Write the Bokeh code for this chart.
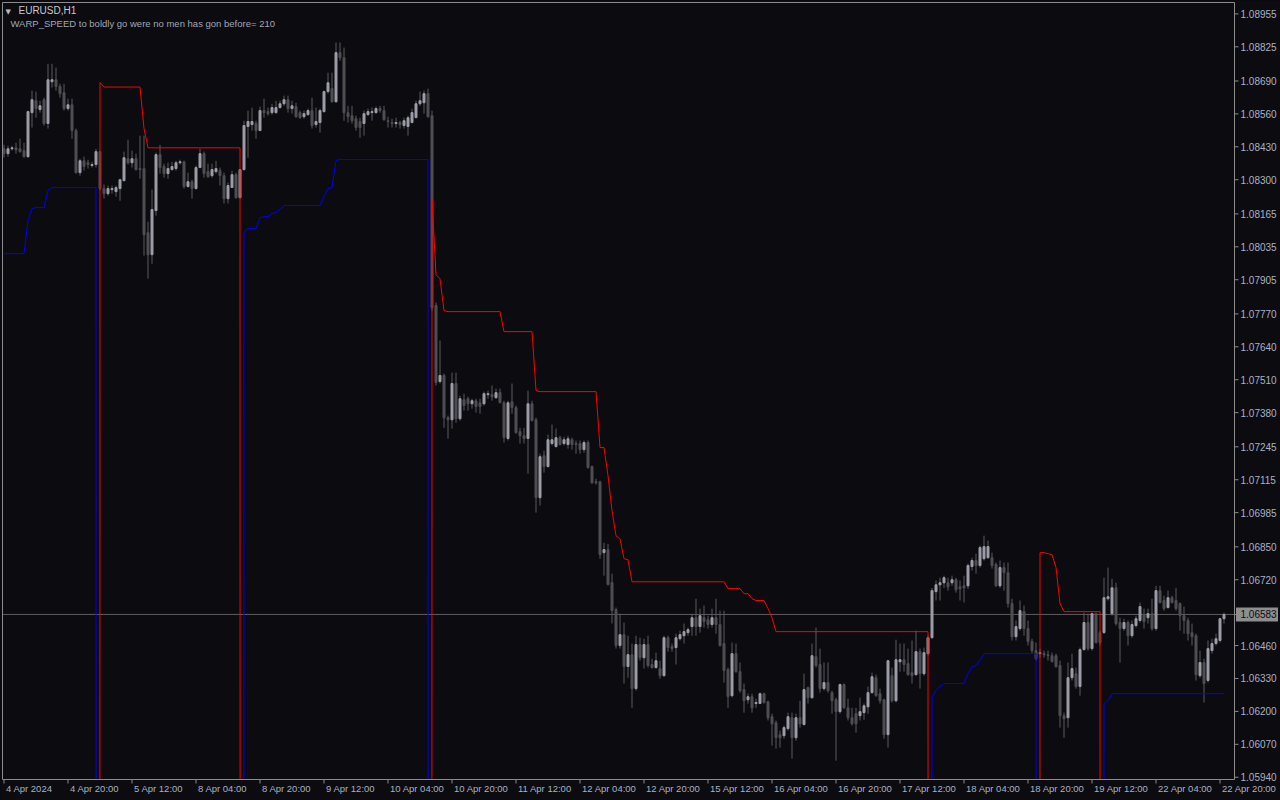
from bokeh.plotting import figure
from bokeh.models import ColumnDataSource, Range1d, Label, GlobalInlineStyleSheet
from bokeh.core.properties import value
from bokeh.embed import file_html
from bokeh.resources import INLINE

# ---------------- data (EURUSD H1, bar index 0 = 4 Apr 2024 04:00) ----------------
opens = [
    1.08422, 1.08403, 1.08422, 1.08426, 1.08422, 1.08415, 1.08391, 1.08565, 1.08612, 1.08577,
    1.08616, 1.08522, 1.08687, 1.08695, 1.08668, 1.08644, 1.08581, 1.08596, 1.08494, 1.08328,
    1.08375, 1.08367, 1.08356, 1.08360, 1.08411, 1.08265, 1.08245, 1.08261, 1.08253, 1.08265,
    1.08296, 1.08383, 1.08367, 1.08383, 1.08344, 1.08344, 1.08091, 1.08004, 1.08178, 1.08399,
    1.08352, 1.08324, 1.08340, 1.08344, 1.08367, 1.08371, 1.08273, 1.08292, 1.08265, 1.08348,
    1.08403, 1.08332, 1.08316, 1.08332, 1.08336, 1.08316, 1.08225, 1.08269, 1.08320, 1.08229,
    1.08340, 1.08510, 1.08518, 1.08522, 1.08494, 1.08573, 1.08569, 1.08565, 1.08565, 1.08585,
    1.08600, 1.08616, 1.08581, 1.08589, 1.08565, 1.08549, 1.08557, 1.08573, 1.08518, 1.08526,
    1.08569, 1.08648, 1.08660, 1.08608, 1.08802, 1.08782, 1.08565, 1.08553, 1.08541, 1.08530,
    1.08522, 1.08557, 1.08565, 1.08565, 1.08581, 1.08573, 1.08533, 1.08526, 1.08522, 1.08526,
    1.08514, 1.08510, 1.08526, 1.08545, 1.08600, 1.08604, 1.08640, 1.08553, 1.07803, 1.07503,
    1.07527, 1.07360, 1.07352, 1.07495, 1.07356, 1.07431, 1.07435, 1.07415, 1.07427, 1.07419,
    1.07415, 1.07451, 1.07451, 1.07439, 1.07459, 1.07419, 1.07278, 1.07423, 1.07400, 1.07305,
    1.07289, 1.07278, 1.07415, 1.07352, 1.07044, 1.07210, 1.07167, 1.07258, 1.07246, 1.07281,
    1.07258, 1.07254, 1.07273, 1.07258, 1.07258, 1.07234, 1.07262, 1.07167, 1.07107, 1.07107,
    1.06827, 1.06839, 1.06709, 1.06602, 1.06460, 1.06503, 1.06377, 1.06424, 1.06290, 1.06464,
    1.06412, 1.06464, 1.06385, 1.06373, 1.06369, 1.06341, 1.06491, 1.06456, 1.06452, 1.06487,
    1.06499, 1.06511, 1.06535, 1.06570, 1.06535, 1.06570, 1.06562, 1.06543, 1.06570, 1.06543,
    1.06468, 1.06365, 1.06262, 1.06428, 1.06357, 1.06286, 1.06246, 1.06258, 1.06231, 1.06231,
    1.06270, 1.06238, 1.06179, 1.06155, 1.06108, 1.06104, 1.06132, 1.06175, 1.06096, 1.06175,
    1.06148, 1.06294, 1.06254, 1.06416, 1.06385, 1.06290, 1.06314, 1.06274, 1.06246, 1.06199,
    1.06306, 1.06214, 1.06175, 1.06191, 1.06183, 1.06195, 1.06218, 1.06274, 1.06333, 1.06270,
    1.06246, 1.06108, 1.06341, 1.06242, 1.06396, 1.06404, 1.06389, 1.06353, 1.06345, 1.06436,
    1.06349, 1.06428, 1.06491, 1.06673, 1.06700, 1.06708, 1.06708, 1.06708, 1.06720, 1.06692,
    1.06696, 1.06696, 1.06772, 1.06796, 1.06776, 1.06803, 1.06807, 1.06807, 1.06780, 1.06696,
    1.06768, 1.06748, 1.06626, 1.06495, 1.06527, 1.06594, 1.06527, 1.06476, 1.06440, 1.06428,
    1.06428, 1.06424, 1.06420, 1.06420, 1.06381, 1.06183, 1.06175, 1.06333, 1.06349, 1.06298,
    1.06444, 1.06551, 1.06448, 1.06586, 1.06511, 1.06511, 1.06645, 1.06586, 1.06688, 1.06551,
    1.06527, 1.06551, 1.06499, 1.06539, 1.06559, 1.06582, 1.06570, 1.06586, 1.06527, 1.06677,
    1.06638, 1.06610, 1.06649, 1.06638, 1.06626, 1.06578, 1.06559, 1.06511, 1.06499, 1.06341,
    1.06393, 1.06322, 1.06440, 1.06468, 1.06480, 1.06566,
]
highs = [
    1.08438, 1.08434, 1.08434, 1.08446, 1.08462, 1.08446, 1.08573, 1.08652, 1.08648, 1.08612,
    1.08624, 1.08758, 1.08758, 1.08743, 1.08679, 1.08679, 1.08620, 1.08620, 1.08502, 1.08383,
    1.08391, 1.08379, 1.08371, 1.08422, 1.08415, 1.08281, 1.08277, 1.08277, 1.08277, 1.08304,
    1.08411, 1.08458, 1.08415, 1.08403, 1.08474, 1.08474, 1.08134, 1.08261, 1.08407, 1.08438,
    1.08363, 1.08367, 1.08371, 1.08375, 1.08379, 1.08375, 1.08328, 1.08300, 1.08356, 1.08422,
    1.08411, 1.08363, 1.08363, 1.08375, 1.08348, 1.08328, 1.08289, 1.08336, 1.08328, 1.08340,
    1.08533, 1.08573, 1.08585, 1.08533, 1.08589, 1.08620, 1.08585, 1.08600, 1.08612, 1.08612,
    1.08632, 1.08632, 1.08612, 1.08604, 1.08573, 1.08573, 1.08581, 1.08624, 1.08585, 1.08581,
    1.08652, 1.08723, 1.08723, 1.08842, 1.08842, 1.08822, 1.08592, 1.08592, 1.08553, 1.08545,
    1.08573, 1.08581, 1.08585, 1.08589, 1.08592, 1.08592, 1.08549, 1.08541, 1.08545, 1.08533,
    1.08545, 1.08553, 1.08581, 1.08612, 1.08648, 1.08652, 1.08660, 1.08573, 1.07815, 1.07665,
    1.07534, 1.07368, 1.07538, 1.07538, 1.07447, 1.07455, 1.07443, 1.07435, 1.07435, 1.07435,
    1.07463, 1.07467, 1.07487, 1.07475, 1.07475, 1.07427, 1.07427, 1.07495, 1.07408, 1.07320,
    1.07320, 1.07467, 1.07427, 1.07360, 1.07218, 1.07230, 1.07293, 1.07333, 1.07317, 1.07289,
    1.07285, 1.07289, 1.07281, 1.07270, 1.07270, 1.07270, 1.07270, 1.07171, 1.07119, 1.07111,
    1.06866, 1.06862, 1.06744, 1.06610, 1.06586, 1.06551, 1.06499, 1.06468, 1.06499, 1.06491,
    1.06487, 1.06499, 1.06408, 1.06432, 1.06400, 1.06499, 1.06499, 1.06468, 1.06507, 1.06519,
    1.06547, 1.06531, 1.06586, 1.06645, 1.06606, 1.06618, 1.06578, 1.06606, 1.06645, 1.06598,
    1.06598, 1.06373, 1.06472, 1.06468, 1.06393, 1.06310, 1.06270, 1.06270, 1.06250, 1.06274,
    1.06274, 1.06242, 1.06191, 1.06164, 1.06124, 1.06144, 1.06195, 1.06195, 1.06191, 1.06242,
    1.06349, 1.06298, 1.06468, 1.06531, 1.06448, 1.06393, 1.06393, 1.06282, 1.06254, 1.06310,
    1.06310, 1.06250, 1.06214, 1.06214, 1.06254, 1.06231, 1.06298, 1.06353, 1.06345, 1.06290,
    1.06250, 1.06404, 1.06373, 1.06483, 1.06468, 1.06468, 1.06448, 1.06480, 1.06519, 1.06448,
    1.06452, 1.06499, 1.06688, 1.06717, 1.06728, 1.06736, 1.06728, 1.06736, 1.06728, 1.06717,
    1.06736, 1.06784, 1.06807, 1.06823, 1.06855, 1.06894, 1.06875, 1.06827, 1.06788, 1.06796,
    1.06788, 1.06788, 1.06645, 1.06559, 1.06638, 1.06618, 1.06559, 1.06487, 1.06472, 1.06448,
    1.06440, 1.06440, 1.06432, 1.06428, 1.06401, 1.06195, 1.06393, 1.06428, 1.06373, 1.06452,
    1.06590, 1.06586, 1.06590, 1.06590, 1.06519, 1.06728, 1.06768, 1.06724, 1.06708, 1.06570,
    1.06566, 1.06559, 1.06559, 1.06578, 1.06630, 1.06606, 1.06606, 1.06645, 1.06696, 1.06696,
    1.06657, 1.06677, 1.06657, 1.06688, 1.06630, 1.06614, 1.06570, 1.06547, 1.06507, 1.06440,
    1.06408, 1.06480, 1.06487, 1.06507, 1.06570, 1.06590,
]
lows = [
    1.08387, 1.08391, 1.08415, 1.08403, 1.08407, 1.08387, 1.08387, 1.08506, 1.08545, 1.08565,
    1.08514, 1.08502, 1.08664, 1.08652, 1.08624, 1.08573, 1.08573, 1.08462, 1.08324, 1.08316,
    1.08336, 1.08344, 1.08348, 1.08348, 1.08257, 1.08225, 1.08237, 1.08245, 1.08233, 1.08217,
    1.08296, 1.08360, 1.08348, 1.08336, 1.08304, 1.08000, 1.07909, 1.07968, 1.08158, 1.08324,
    1.08308, 1.08304, 1.08336, 1.08336, 1.08360, 1.08265, 1.08269, 1.08225, 1.08261, 1.08348,
    1.08308, 1.08308, 1.08308, 1.08324, 1.08277, 1.08206, 1.08206, 1.08269, 1.08225, 1.08225,
    1.08336, 1.08387, 1.08494, 1.08462, 1.08494, 1.08545, 1.08553, 1.08557, 1.08561, 1.08581,
    1.08592, 1.08565, 1.08561, 1.08545, 1.08541, 1.08541, 1.08553, 1.08502, 1.08506, 1.08486,
    1.08565, 1.08640, 1.08604, 1.08604, 1.08770, 1.08533, 1.08526, 1.08522, 1.08494, 1.08466,
    1.08474, 1.08553, 1.08533, 1.08561, 1.08565, 1.08533, 1.08506, 1.08506, 1.08506, 1.08502,
    1.08502, 1.08474, 1.08522, 1.08545, 1.08592, 1.08561, 1.08545, 1.07783, 1.07487, 1.07495,
    1.07320, 1.07277, 1.07317, 1.07340, 1.07348, 1.07388, 1.07388, 1.07396, 1.07380, 1.07376,
    1.07408, 1.07435, 1.07427, 1.07435, 1.07419, 1.07262, 1.07270, 1.07376, 1.07297, 1.07258,
    1.07258, 1.07139, 1.07348, 1.06985, 1.07013, 1.07143, 1.07163, 1.07250, 1.07242, 1.07250,
    1.07250, 1.07238, 1.07234, 1.07218, 1.07218, 1.07222, 1.07159, 1.07099, 1.07096, 1.06803,
    1.06736, 1.06697, 1.06547, 1.06448, 1.06448, 1.06310, 1.06333, 1.06214, 1.06282, 1.06401,
    1.06369, 1.06373, 1.06369, 1.06369, 1.06329, 1.06337, 1.06436, 1.06436, 1.06385, 1.06480,
    1.06468, 1.06499, 1.06499, 1.06499, 1.06511, 1.06531, 1.06527, 1.06531, 1.06507, 1.06456,
    1.06314, 1.06214, 1.06255, 1.06353, 1.06274, 1.06195, 1.06231, 1.06195, 1.06214, 1.06231,
    1.06231, 1.06164, 1.06065, 1.06053, 1.06057, 1.06092, 1.06124, 1.06013, 1.06084, 1.06136,
    1.06144, 1.06231, 1.06250, 1.06373, 1.06274, 1.06282, 1.06274, 1.06191, 1.06005, 1.06191,
    1.06211, 1.06164, 1.06144, 1.06116, 1.06164, 1.06167, 1.06191, 1.06270, 1.06258, 1.06231,
    1.06092, 1.06057, 1.06235, 1.06235, 1.06357, 1.06357, 1.06341, 1.06310, 1.06341, 1.06290,
    1.06341, 1.06420, 1.06487, 1.06638, 1.06638, 1.06688, 1.06677, 1.06696, 1.06669, 1.06638,
    1.06630, 1.06684, 1.06756, 1.06744, 1.06768, 1.06796, 1.06803, 1.06764, 1.06692, 1.06688,
    1.06677, 1.06610, 1.06480, 1.06480, 1.06519, 1.06499, 1.06460, 1.06428, 1.06401, 1.06412,
    1.06412, 1.06401, 1.06393, 1.06373, 1.06136, 1.06096, 1.06136, 1.06322, 1.06290, 1.06262,
    1.06440, 1.06440, 1.06440, 1.06468, 1.06460, 1.06507, 1.06638, 1.06578, 1.06539, 1.06393,
    1.06519, 1.06460, 1.06491, 1.06531, 1.06551, 1.06527, 1.06547, 1.06519, 1.06519, 1.06626,
    1.06598, 1.06606, 1.06626, 1.06598, 1.06519, 1.06507, 1.06480, 1.06460, 1.06322, 1.06333,
    1.06235, 1.06314, 1.06428, 1.06460, 1.06472, 1.06547,
]
closes = [
    1.08403, 1.08422, 1.08426, 1.08418, 1.08411, 1.08391, 1.08569, 1.08616, 1.08581, 1.08592,
    1.08522, 1.08695, 1.08695, 1.08668, 1.08640, 1.08581, 1.08596, 1.08494, 1.08328, 1.08375,
    1.08352, 1.08360, 1.08360, 1.08411, 1.08265, 1.08245, 1.08265, 1.08265, 1.08269, 1.08300,
    1.08387, 1.08367, 1.08383, 1.08340, 1.08340, 1.08083, 1.08004, 1.08182, 1.08399, 1.08348,
    1.08324, 1.08344, 1.08352, 1.08367, 1.08371, 1.08273, 1.08292, 1.08265, 1.08348, 1.08403,
    1.08324, 1.08312, 1.08340, 1.08344, 1.08316, 1.08225, 1.08277, 1.08320, 1.08229, 1.08340,
    1.08514, 1.08530, 1.08530, 1.08494, 1.08573, 1.08565, 1.08561, 1.08585, 1.08585, 1.08600,
    1.08616, 1.08581, 1.08592, 1.08549, 1.08545, 1.08561, 1.08573, 1.08514, 1.08530, 1.08573,
    1.08648, 1.08683, 1.08608, 1.08802, 1.08782, 1.08565, 1.08549, 1.08533, 1.08506, 1.08506,
    1.08561, 1.08569, 1.08569, 1.08581, 1.08573, 1.08537, 1.08530, 1.08522, 1.08526, 1.08518,
    1.08533, 1.08545, 1.08565, 1.08600, 1.08612, 1.08640, 1.08549, 1.07795, 1.07499, 1.07527,
    1.07360, 1.07352, 1.07495, 1.07356, 1.07435, 1.07408, 1.07415, 1.07427, 1.07404, 1.07404,
    1.07455, 1.07455, 1.07443, 1.07459, 1.07419, 1.07282, 1.07419, 1.07400, 1.07301, 1.07289,
    1.07278, 1.07415, 1.07348, 1.07044, 1.07206, 1.07167, 1.07273, 1.07273, 1.07281, 1.07254,
    1.07273, 1.07277, 1.07254, 1.07254, 1.07234, 1.07262, 1.07163, 1.07103, 1.07103, 1.06819,
    1.06839, 1.06701, 1.06598, 1.06460, 1.06503, 1.06377, 1.06424, 1.06290, 1.06464, 1.06412,
    1.06464, 1.06381, 1.06373, 1.06400, 1.06341, 1.06491, 1.06452, 1.06448, 1.06491, 1.06503,
    1.06515, 1.06523, 1.06570, 1.06535, 1.06578, 1.06555, 1.06543, 1.06570, 1.06543, 1.06460,
    1.06361, 1.06259, 1.06428, 1.06357, 1.06282, 1.06242, 1.06258, 1.06214, 1.06235, 1.06270,
    1.06235, 1.06175, 1.06151, 1.06096, 1.06096, 1.06136, 1.06179, 1.06096, 1.06175, 1.06151,
    1.06286, 1.06254, 1.06420, 1.06381, 1.06290, 1.06314, 1.06282, 1.06242, 1.06199, 1.06306,
    1.06214, 1.06175, 1.06151, 1.06151, 1.06199, 1.06222, 1.06274, 1.06337, 1.06262, 1.06242,
    1.06108, 1.06400, 1.06242, 1.06404, 1.06404, 1.06385, 1.06345, 1.06341, 1.06436, 1.06349,
    1.06432, 1.06491, 1.06677, 1.06700, 1.06708, 1.06728, 1.06692, 1.06720, 1.06680, 1.06684,
    1.06688, 1.06776, 1.06796, 1.06776, 1.06847, 1.06851, 1.06851, 1.06776, 1.06696, 1.06768,
    1.06748, 1.06626, 1.06495, 1.06535, 1.06598, 1.06527, 1.06476, 1.06440, 1.06408, 1.06432,
    1.06424, 1.06420, 1.06397, 1.06377, 1.06183, 1.06171, 1.06333, 1.06369, 1.06298, 1.06444,
    1.06551, 1.06448, 1.06586, 1.06472, 1.06472, 1.06649, 1.06653, 1.06688, 1.06547, 1.06527,
    1.06551, 1.06499, 1.06543, 1.06566, 1.06614, 1.06555, 1.06586, 1.06527, 1.06677, 1.06630,
    1.06606, 1.06649, 1.06630, 1.06606, 1.06578, 1.06559, 1.06507, 1.06495, 1.06345, 1.06393,
    1.06310, 1.06448, 1.06468, 1.06487, 1.06566, 1.06583,
]

# WARP_SPEED indicator buffers (segments: first bar index, values; 0.0 = empty value drop)
blue1_start = 0
blue1 = [1.08008, 1.08008, 1.08008, 1.08008, 1.08008, 1.08008, 1.08139, 1.08186, 1.08190, 1.08190,
         1.08190, 1.08257, 1.08269, 1.08269, 1.08269, 1.08269, 1.08269, 1.08269, 1.08269, 1.08269,
         1.08269, 1.08269, 1.08269, 1.08269, 0.0]
red1_start = 23
red1 = [0.0, 1.08684, 1.08666, 1.08666, 1.08666, 1.08666, 1.08666, 1.08666, 1.08666, 1.08666,
        1.08666, 1.08666, 1.08502, 1.08426, 1.08426, 1.08426, 1.08426, 1.08426, 1.08426, 1.08426,
        1.08426, 1.08426, 1.08426, 1.08426, 1.08426, 1.08426, 1.08426, 1.08426, 1.08426, 1.08426,
        1.08426, 1.08426, 1.08426, 1.08426, 1.08426, 1.08426, 1.08426, 0.0]
blue2_start = 59
blue2 = [0.0, 1.08095, 1.08107, 1.08107, 1.08107, 1.08150, 1.08154, 1.08154, 1.08166, 1.08170,
         1.08182, 1.08198, 1.08198, 1.08198, 1.08198, 1.08198, 1.08198, 1.08198, 1.08198, 1.08198,
         1.08198, 1.08233, 1.08265, 1.08269, 1.08376, 1.08380, 1.08380, 1.08380, 1.08380, 1.08380,
         1.08380, 1.08380, 1.08380, 1.08380, 1.08380, 1.08380, 1.08380, 1.08380, 1.08380, 1.08380,
         1.08380, 1.08380, 1.08380, 1.08380, 1.08380, 1.08380, 1.08380, 1.08380, 0.0]
red2_start = 106
red2 = [0.0, 1.08225, 1.07925, 1.07909, 1.07783, 1.07779, 1.07779, 1.07779, 1.07779, 1.07779,
        1.07779, 1.07779, 1.07779, 1.07779, 1.07779, 1.07779, 1.07779, 1.07779, 1.07779, 1.07700,
        1.07700, 1.07700, 1.07700, 1.07700, 1.07700, 1.07700, 1.07700, 1.07467, 1.07463, 1.07463,
        1.07463, 1.07463, 1.07463, 1.07463, 1.07463, 1.07463, 1.07463, 1.07463, 1.07463, 1.07463,
        1.07463, 1.07463, 1.07463, 1.07242, 1.07242, 1.07131, 1.06993, 1.06894, 1.06882, 1.06803,
        1.06799, 1.06712, 1.06712, 1.06712, 1.06712, 1.06712, 1.06712, 1.06712, 1.06712, 1.06712,
        1.06712, 1.06712, 1.06712, 1.06712, 1.06712, 1.06712, 1.06712, 1.06712, 1.06712, 1.06712,
        1.06712, 1.06712, 1.06712, 1.06712, 1.06712, 1.06685, 1.06685, 1.06685, 1.06685, 1.06665,
        1.06665, 1.06645, 1.06638, 1.06638, 1.06638, 1.06606, 1.06570, 1.06515, 1.06515, 1.06515,
        1.06515, 1.06515, 1.06515, 1.06515, 1.06515, 1.06515, 1.06515, 1.06515, 1.06515, 1.06515,
        1.06515, 1.06515, 1.06515, 1.06515, 1.06515, 1.06515, 1.06515, 1.06515, 1.06515, 1.06515,
        1.06515, 1.06515, 1.06515, 1.06515, 1.06515, 1.06515, 1.06515, 1.06515, 1.06515, 1.06515,
        1.06515, 1.06515, 1.06515, 1.06515, 1.06515, 1.06515, 0.0]
blue3_start = 231
blue3 = [0.0, 1.06254, 1.06282, 1.06298, 1.06310, 1.06310, 1.06310, 1.06310, 1.06310, 1.06310,
         1.06349, 1.06377, 1.06381, 1.06401, 1.06428, 1.06428, 1.06428, 1.06428, 1.06428, 1.06428,
         1.06428, 1.06428, 1.06428, 1.06428, 1.06428, 1.06428, 1.06428, 1.06428, 0.0]
red3_start = 258
red3 = [0.0, 1.06827, 1.06827, 1.06823, 1.06819, 1.06768, 1.06626, 1.06594, 1.06594, 1.06594,
        1.06594, 1.06594, 1.06594, 1.06594, 1.06594, 1.06594, 1.06594, 0.0]
blue4_start = 274
blue4 = [0.0, 1.06231, 1.06242, 1.06270, 1.06270, 1.06270, 1.06270, 1.06270, 1.06270, 1.06270,
         1.06270, 1.06270, 1.06270, 1.06270, 1.06270, 1.06270, 1.06270, 1.06270, 1.06270, 1.06270,
         1.06270, 1.06270, 1.06270, 1.06270, 1.06270, 1.06270, 1.06270, 1.06270, 1.06270, 1.06270,
         1.06270, 1.06270]

bid_price = 1.06583
price_ticks = [1.08955, 1.08825, 1.08690, 1.08560, 1.08430, 1.08300, 1.08165, 1.08035,
               1.07905, 1.07770, 1.07640, 1.07510, 1.07380, 1.07245, 1.07115, 1.06985,
               1.06850, 1.06720, 1.06460, 1.06330, 1.06200, 1.06070, 1.05940]
time_tick_bars = [0, 16, 32, 48, 64, 80, 96, 112, 128, 144, 160, 176, 192, 208, 224, 240,
                  256, 272, 288, 304]
time_tick_labels = ["4 Apr 2024", "4 Apr 20:00", "5 Apr 12:00", "8 Apr 04:00", "8 Apr 20:00",
                    "9 Apr 12:00", "10 Apr 04:00", "10 Apr 20:00", "11 Apr 12:00", "12 Apr 04:00",
                    "12 Apr 20:00", "15 Apr 12:00", "16 Apr 04:00", "16 Apr 20:00", "17 Apr 12:00",
                    "18 Apr 04:00", "18 Apr 20:00", "19 Apr 12:00", "22 Apr 04:00", "22 Apr 20:00"]
symbol_text = "EURUSD,H1"
indicator_text = "WARP_SPEED to boldly go were no men has gon before= 210"

# ---------------- style / layout ----------------
BG = "#0b0b10"
BULL = "#9c9ca8"
BEAR = "#4e4e53"
WICK = "#5a5a5f"
FRAME = "#8c8c8c"
AXTXT = "#a9b2c4"
FONT = "Liberation Sans"

W, H = 1280, 800
FR_L, FR_R, FR_T, FR_B = 2, 1234, 2, 779          # chart frame in canvas pixels
PX_PER_BAR = 4.0
x_lo = -0.875                                     # bar n centred at pixel 3.5 + 4n
bx = 1.0 / PX_PER_BAR                             # bars per pixel
x_start = x_lo + FR_L * bx
x_end = x_lo + FR_R * bx
y_start, y_end = 1.05931, 1.09000
py = (y_end - y_start) / (FR_B - FR_T)            # price per pixel
y_top = y_end + FR_T * py
y_bot = y_end - (H - FR_T) * py

p = figure(width=W, height=H, output_backend="svg", toolbar_location=None,
           x_range=Range1d(x_lo, x_lo + W * bx), y_range=Range1d(y_bot, y_top),
           x_axis_location=None, y_axis_location=None,
           min_border_left=0, min_border_top=0, min_border_right=0, min_border_bottom=0,
           background_fill_color=BG, border_fill_color=BG, outline_line_color=None)
p.stylesheets = [GlobalInlineStyleSheet(
    css="html, body { margin: 0; padding: 0; background: #0b0b10; overflow: hidden; }")]
p.grid.visible = False

# bid line
p.segment(x0=x_start, x1=x_end, y0=bid_price, y1=bid_price, line_color="#5e5e62", line_width=1)

# candles
n = len(closes)
xs = list(range(n))
src = ColumnDataSource(dict(
    x=xs, high=highs, low=lows,
    top=[max(o, c) for o, c in zip(opens, closes)],
    bottom=[min(o, c) for o, c in zip(opens, closes)],
    color=[BULL if c >= o else BEAR for o, c in zip(opens, closes)],
))
p.segment(x0="x", y0="high", x1="x", y1="low", source=src, line_color=WICK, line_width=1)
p.vbar(x="x", width=0.5, top="top", bottom="bottom", source=src,
       fill_color="color", line_color="color", line_width=1)

# indicator lines
for start, vals, col in [(blue1_start, blue1, "#0000ff"), (red1_start, red1, "#ff0000"),
                         (blue2_start, blue2, "#0000ff"), (red2_start, red2, "#ff0000"),
                         (blue3_start, blue3, "#0000ff"), (red3_start, red3, "#ff0000"),
                         (blue4_start, blue4, "#0000ff")]:
    p.line(list(range(start, start + len(vals))), vals, line_color=col, line_width=1)

# masks outside the chart frame (scales area)
p.quad(left=x_lo, right=x_lo + W * bx, bottom=y_bot, top=y_start, fill_color=BG, line_color=None)
p.quad(left=x_end, right=x_lo + W * bx, bottom=y_bot, top=y_top, fill_color=BG, line_color=None)
# chart frame
p.quad(left=x_start, right=x_end, bottom=y_start, top=y_end, fill_color=None,
       line_color=FRAME, line_width=1)

# price scale
ysrc = ColumnDataSource(dict(y=price_ticks, text=[f"{v:.5f}" for v in price_ticks]))
p.segment(x0=x_end, x1=x_end + 4 * bx, y0="y", y1="y", source=ysrc, line_color=FRAME, line_width=1)
p.text(x=x_end + 6 * bx, y="y", text="text", source=ysrc, text_baseline="middle",
       text_align="left", text_font=value(FONT), text_font_size="10px", text_color=AXTXT)
p.rect(x=x_end + 22.5 * bx, y=bid_price, width=42 * bx, height=14, height_units="screen",
       fill_color="#8e8e8e", line_color=None)
p.segment(x0=x_end, x1=x_end + 4 * bx, y0=bid_price, y1=bid_price, line_color=FRAME, line_width=1)
p.text(x=x_end + 6 * bx, y=[bid_price], text=[f"{bid_price:.5f}"], text_baseline="middle",
       text_align="left", text_font=value(FONT), text_font_size="10px", text_color=BG)

# time scale
tsrc = ColumnDataSource(dict(x=time_tick_bars, text=time_tick_labels))
p.segment(x0="x", x1="x", y0=y_start, y1=y_start - 4 * py, source=tsrc, line_color=FRAME,
          line_width=1)
p.text(x="x", y=y_start - 3 * py, text="text", source=tsrc, x_offset=2,
       text_baseline="top", text_align="left",
       text_font=value(FONT), text_font_size="9.5px", text_color=AXTXT)

# header texts
p.add_layout(Label(x=x_start, y=y_end, x_offset=3, y_offset=-5, text="\u25bc",
                   text_baseline="top", text_font="DejaVu Sans", text_font_size="7px",
                   text_color="#b8b8b8"))
p.add_layout(Label(x=x_start, y=y_end, x_offset=16, y_offset=-2, text=symbol_text,
                   text_baseline="top", text_font=FONT, text_font_size="10px",
                   text_color="#c8c8cc"))
p.add_layout(Label(x=x_start, y=y_end, x_offset=8, y_offset=-15, text=indicator_text,
                   text_baseline="top", text_font=FONT, text_font_size="9.5px",
                   text_color="#a0a8b4"))

open("out.html", "w").write(file_html(p, INLINE))
